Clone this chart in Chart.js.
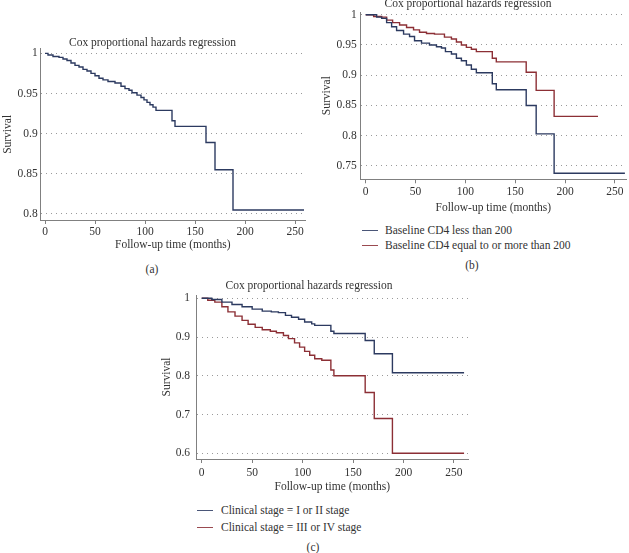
<!DOCTYPE html>
<html>
<head>
<meta charset="utf-8">
<script src="https://cdn.jsdelivr.net/npm/chart.js@4.4.1/dist/chart.umd.min.js"></script>
<style>
  html, body { margin: 0; padding: 0; background: #fff; }
  body { width: 629px; height: 553px; position: relative; overflow: hidden; font-family: "Liberation Serif", "DejaVu Serif", serif; color: #333; }
  canvas { position: absolute; }
  .cap { position: absolute; font-size: 11.5px; line-height: 14px; transform: translate(-50%, -50%); white-space: nowrap; }
  .leg { position: absolute; font-size: 11.5px; line-height: 14px; white-space: nowrap; }
  .leg .sw { position: absolute; height: 1px; }
  .leg .tx { position: absolute; transform: translateY(-50%); }
</style>
</head>
<body>
<canvas id="ca" width="310" height="219" style="left:0px;top:35px"></canvas>
<canvas id="cb" width="319" height="220" style="left:310px;top:-4px"></canvas>
<canvas id="cc" width="330" height="218" style="left:150px;top:277px"></canvas>
<div id="legb"></div>
<div id="legc"></div>
<div class="cap" style="left:152px;top:269px">(a)</div>
<div class="cap" style="left:472px;top:265px">(b)</div>
<div class="cap" style="left:313px;top:547px">(c)</div>
<script>
// ---- Data ----
const TITLE = 'Cox proportional hazards regression';
const X_TITLE = 'Follow-up time (months)';
const Y_TITLE = 'Survival';
const xTicks = [0, 50, 100, 150, 200, 250];

// Panel (a): overall
const aTime = [0, 3, 8, 14, 18, 22, 26, 30, 34, 38, 42, 46, 50, 54, 58, 63, 70, 76, 80, 84, 87, 92, 96, 99, 102, 105, 108, 111, 127, 130, 161, 170, 188, 259];
const aSurv = [1, 0.998, 0.996, 0.995, 0.993, 0.991, 0.988, 0.985, 0.983, 0.980, 0.978, 0.975, 0.972, 0.969, 0.967, 0.965, 0.963, 0.959, 0.956, 0.954, 0.951, 0.948, 0.945, 0.942, 0.939, 0.936, 0.933, 0.929, 0.916, 0.909, 0.889, 0.855, 0.805, 0.805];
const aYTicks = [0.8, 0.85, 0.9, 0.95, 1];
const aYLabels = ['0.8', '0.85', '0.9', '0.95', '1'];

// Panel (b): by baseline CD4
const bLabels = ['Baseline CD4 less than 200', 'Baseline CD4 equal to or more than 200'];
const b1Time = [0, 11, 16, 21, 26, 31, 38, 44, 49, 56, 64, 71, 76, 80, 86, 91, 96, 101, 106, 111, 127, 131, 161, 171, 189, 260];
const b1Surv = [1, 0.996, 0.994, 0.987, 0.980, 0.974, 0.968, 0.964, 0.957, 0.953, 0.950, 0.947, 0.945, 0.939, 0.935, 0.928, 0.924, 0.917, 0.910, 0.904, 0.886, 0.876, 0.850, 0.803, 0.738, 0.738];
const b2Time = [0, 8, 16, 21, 27, 34, 41, 48, 54, 61, 69, 79, 86, 91, 96, 101, 106, 111, 127, 131, 161, 171, 189, 233];
const b2Surv = [1, 0.997, 0.996, 0.991, 0.987, 0.983, 0.979, 0.975, 0.971, 0.969, 0.968, 0.963, 0.960, 0.955, 0.950, 0.946, 0.943, 0.939, 0.928, 0.922, 0.905, 0.875, 0.832, 0.832];
const bYTicks = [0.75, 0.8, 0.85, 0.9, 0.95, 1];
const bYLabels = ['0.75', '0.8', '0.85', '0.9', '0.95', '1'];

// Panel (c): by clinical stage
const cLabels = ['Clinical stage = I or II stage', 'Clinical stage = III or IV stage'];
const c1Time = [0, 10, 20, 30, 40, 50, 60, 69, 76, 83, 89, 96, 102, 109, 112, 128, 131, 162, 171, 189, 260];
const c1Surv = [1, 0.997, 0.990, 0.984, 0.978, 0.972, 0.967, 0.965, 0.963, 0.956, 0.951, 0.946, 0.939, 0.934, 0.930, 0.915, 0.909, 0.891, 0.857, 0.808, 0.808];
const c2Time = [0, 6, 13, 20, 26, 33, 40, 46, 53, 60, 68, 74, 81, 86, 92, 97, 102, 107, 112, 119, 128, 131, 162, 171, 189, 260];
const c2Surv = [1, 0.995, 0.990, 0.978, 0.965, 0.954, 0.943, 0.933, 0.925, 0.919, 0.915, 0.911, 0.904, 0.896, 0.885, 0.874, 0.863, 0.853, 0.844, 0.840, 0.815, 0.800, 0.757, 0.690, 0.600, 0.600];
const cYTicks = [0.6, 0.7, 0.8, 0.9, 1];
const cYLabels = ['0.6', '0.7', '0.8', '0.9', '1'];

// ---- Styles ----
const FONT = '"Liberation Serif", "DejaVu Serif", serif';
const TEXT = '#333333';
const AXIS = '#808080';
const GRID = '#9a9a9a';
const BLUE = '#2c3a60';
const RED = '#8c2f35';

function pts(t, s) { return t.map((v, i) => ({ x: v, y: s[i] })); }
function ds(label, t, s, color) {
  return { label, data: pts(t, s), borderColor: color, backgroundColor: color, borderWidth: 1.4, stepped: 'before', pointRadius: 0, fill: false };
}

function makeChart(id, datasets, p) {
  const f = { family: FONT, size: 11.5, weight: 'normal' };
  return new Chart(document.getElementById(id), {
    type: 'line',
    data: { datasets },
    options: {
      responsive: false, animation: false, devicePixelRatio: 1,
      layout: { padding: { left: 0, right: p.padRight, top: 0, bottom: 0 } },
      plugins: {
        legend: { display: false },
        tooltip: { enabled: false },
        title: { display: true, text: TITLE, color: TEXT, font: Object.assign({ lineHeight: 1 }, f), padding: { top: p.tTop, bottom: p.tBottom } }
      },
      scales: {
        x: {
          type: 'linear', min: p.xmin, max: p.xmax,
          afterBuildTicks: s => { s.ticks = xTicks.map(v => ({ value: v })); },
          afterFit: s => { s.height = p.xH; },
          grid: { display: true, drawOnChartArea: false, drawTicks: true, tickLength: 4, tickColor: AXIS, tickWidth: 1 },
          border: { display: true, color: AXIS, width: 1 },
          ticks: { color: TEXT, font: f, padding: p.xPad, maxRotation: 0, autoSkip: false, callback: v => String(v) },
          title: { display: true, text: X_TITLE, color: TEXT, font: f, padding: { top: 0, bottom: p.xtPad } }
        },
        y: {
          type: 'linear', min: p.ymin, max: p.ymax,
          afterBuildTicks: s => { s.ticks = p.yTicks.map(v => ({ value: v })); },
          afterFit: s => { s.width = p.yW; },
          grid: { display: true, drawOnChartArea: true, drawTicks: false, color: GRID, lineWidth: 1 },
          border: { display: true, color: AXIS, width: 1, dash: [1, 4] },
          ticks: { color: TEXT, font: f, padding: p.yPad, autoSkip: false, callback: (v, i) => p.yLabels[i] },
          title: { display: true, text: Y_TITLE, color: TEXT, font: f, padding: { top: p.ytPad, bottom: 0 } }
        }
      }
    }
  });
}

makeChart('ca', [ds('Overall', aTime, aSurv, BLUE)], {
  padRight: 5, tTop: 2.25, tBottom: 0,
  xmin: -4.3, xmax: 260, xH: 34, xPad: 1.1, xtPad: 2.1,
  ymin: 0.7925, ymax: 1.0057, yW: 40.7, yPad: 3, ytPad: 0.6,
  yTicks: aYTicks, yLabels: aYLabels
});

makeChart('cb', [ds(bLabels[0], b1Time, b1Surv, BLUE), ds(bLabels[1], b2Time, b2Surv, RED)], {
  padRight: 3, tTop: 2.25, tBottom: 2.25,
  xmin: -5.0, xmax: 261.1, xH: 36.7, xPad: 1.8, xtPad: 1.1,
  ymin: 0.728, ymax: 1.0045, yW: 50.7, yPad: 4, ytPad: 9.8,
  yTicks: bYTicks, yLabels: bYLabels
});

makeChart('cc', [ds(cLabels[0], c1Time, c1Surv, BLUE), ds(cLabels[1], c2Time, c2Surv, RED)], {
  padRight: 12, tTop: 3.25, tBottom: 3.25,
  xmin: -4.96, xmax: 263.9, xH: 36, xPad: 2.8, xtPad: 1.1,
  ymin: 0.5853, ymax: 1.0085, yW: 46.7, yPad: 6.7, ytPad: 9.8,
  yTicks: cYTicks, yLabels: cYLabels
});

// ---- HTML legends ----
function legend(id, labels, colors, lineX, textX, rowsY) {
  const el = document.getElementById(id);
  labels.forEach((lab, i) => {
    const row = document.createElement('div');
    row.className = 'leg';
    row.style.left = '0px'; row.style.top = rowsY[i] + 'px';
    const sw = document.createElement('div');
    sw.className = 'sw';
    sw.style.left = lineX[0] + 'px'; sw.style.width = (lineX[1] - lineX[0]) + 'px';
    sw.style.top = '-0.5px'; sw.style.background = colors[i];
    const tx = document.createElement('div');
    tx.className = 'tx'; tx.style.left = textX + 'px'; tx.style.top = '0px';
    tx.textContent = lab;
    row.appendChild(sw); row.appendChild(tx);
    el.appendChild(row);
  });
}
legend('legb', bLabels, ['#4a5678', '#9a4a50'], [362, 378], 385, [230, 245]);
legend('legc', cLabels, ['#4a5678', '#9a4a50'], [197, 213], 221, [510, 527]);
</script>
</body>
</html>
